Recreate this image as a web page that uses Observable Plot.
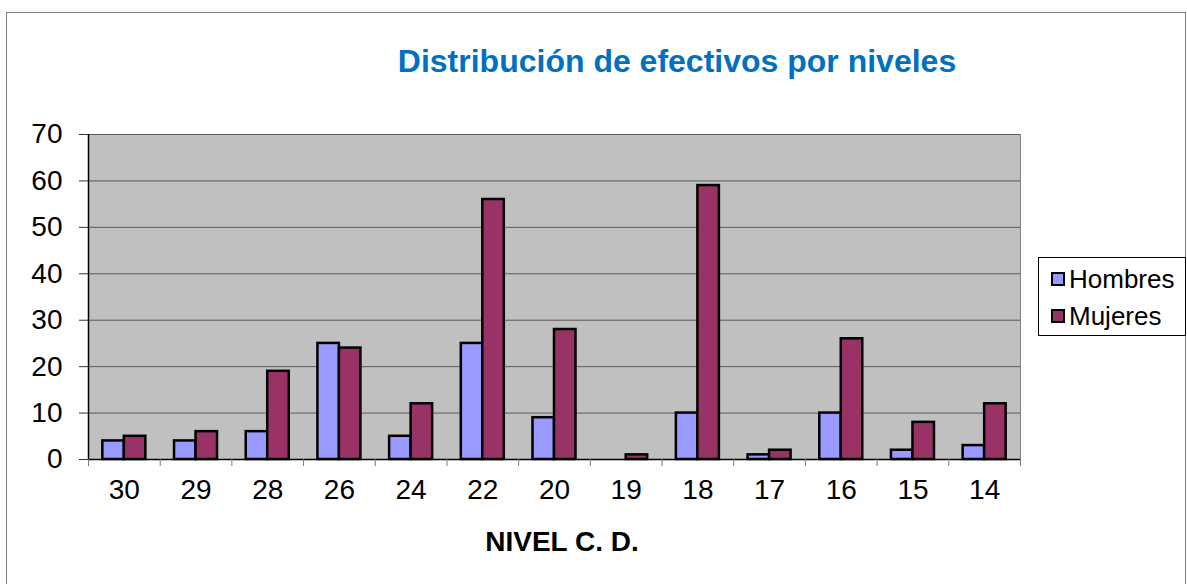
<!DOCTYPE html>
<html><head><meta charset="utf-8">
<script src="https://cdn.jsdelivr.net/npm/d3@7"></script>
<script src="https://cdn.jsdelivr.net/npm/@observablehq/plot@0.6"></script>
<style>
body{margin:0;background:#fff;font-family:"Liberation Sans",Arial,sans-serif;}
#wrap{position:relative;width:1187px;height:584px;overflow:hidden;}
#border{position:absolute;left:6px;top:12px;width:1178px;height:600px;border:1px solid #808080;}
#title{position:absolute;left:327px;top:43px;width:700px;text-align:center;font-weight:bold;font-size:32px;line-height:36px;color:#0070C0;white-space:nowrap;}
#xtitle{position:absolute;left:412px;top:526px;width:300px;text-align:center;font-weight:bold;font-size:28px;line-height:32px;color:#000;}
#legend{position:absolute;left:1038px;top:257px;width:148px;height:79px;border:1px solid #000;box-sizing:border-box;background:#fff;}
.item{position:absolute;left:12px;font-size:26px;line-height:26px;display:flex;align-items:center;}
.sw{width:10px;height:10px;border:2px solid #000;margin-right:4px;}
#chart{position:absolute;left:0;top:0;}
</style></head>
<body><div id="wrap">
<div id="border"></div>
<div id="chart"></div>
<div id="title">Distribución de efectivos por niveles</div>
<div id="xtitle">NIVEL C. D.</div>
<div id="legend"></div>
</div>
<script>
const niveles = ["30","29","28","26","24","22","20","19","18","17","16","15","14"];
const hombres = [4,4,6,25,5,25,9,0,10,1,10,2,3];
const mujeres = [5,6,19,24,12,56,28,1,59,2,26,8,12];
const series = ["Hombres","Mujeres"];
const colors = ["#9999FF","#993366"];
const yTicks = [0,10,20,30,40,50,60,70];

const rows = niveles.flatMap((n,i)=>[
  {nivel:n, i, k:0, serie:series[0], value:hombres[i]},
  {nivel:n, i, k:1, serie:series[1], value:mujeres[i]}
]).filter(d=>d.value>0);

const plot = Plot.plot({
  width:1187, height:584,
  marginLeft:88, marginRight:167, marginTop:134, marginBottom:125,
  style:{background:"transparent", fontFamily:"'Liberation Sans', Arial, sans-serif", fontSize:"28px", color:"#000", overflow:"visible"},
  x:{domain:[0,niveles.length], axis:null},
  y:{domain:[0,70], axis:null},
  color:{domain:series, range:colors},
  marks:[
    Plot.frame({fill:"#C0C0C0", stroke:"#808080"}),
    Plot.ruleY(yTicks, {stroke:"#5a5a5a", strokeWidth:1}),
    Plot.rectY(rows, {x1:d=>d.i+0.2+0.3*d.k, x2:d=>d.i+0.5+0.3*d.k, y1:0, y2:"value", fill:"serie", stroke:"#000", strokeWidth:2.5}),
    Plot.ruleX([0], {stroke:"#000", strokeWidth:1.5}),
    Plot.ruleY([0], {stroke:"#000", strokeWidth:1.5}),
    Plot.axisY(yTicks, {tickSize:9, tickPadding:17, stroke:"#333", fill:"#000", label:null, fontSize:28}),
    Plot.axisX(d3.range(niveles.length+1), {tickSize:7, stroke:"#777", tickFormat:()=>"", label:null}),
    Plot.axisX(niveles.map((n,i)=>i+0.5), {tickSize:0, tickPadding:20, tickFormat:d=>niveles[Math.floor(d)], fill:"#000", label:null, fontSize:28})
  ]
});
document.getElementById("chart").appendChild(plot);

const leg = document.getElementById("legend");
series.forEach((s,j)=>{
  const it = document.createElement("div");
  it.className = "item";
  it.style.top = (8 + j*37) + "px";
  it.innerHTML = `<span class="sw" style="background:${colors[j]}"></span><span>${s}</span>`;
  leg.appendChild(it);
});
</script>
</body></html>
